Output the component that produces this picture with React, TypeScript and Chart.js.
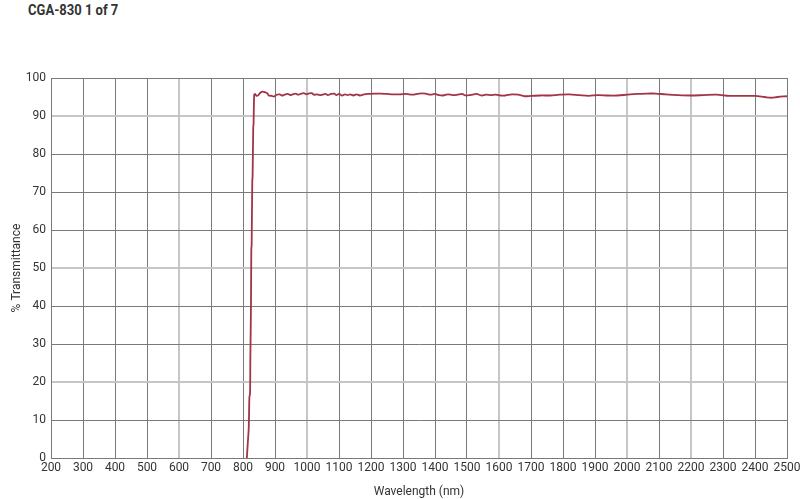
import { useEffect, useRef } from "react"
import { Chart, registerables } from "chart.js"

Chart.register(...registerables)

// wavelength (nm) and % transmittance
const wavelengths = [
  812, 815, 818, 820, 822, 823, 825, 826, 827, 829, 830, 832, 833, 835, 838, 842, 848, 855, 862, 870,
  876, 880, 890, 897, 905, 915, 922, 930, 940, 948, 955, 965, 972, 980, 990, 998, 1005, 1015, 1022, 1030,
  1040, 1048, 1058, 1065, 1075, 1085, 1092, 1100, 1110, 1118, 1127, 1135, 1145, 1155, 1165, 1175, 1190, 1210, 1230, 1250,
  1270, 1290, 1310, 1330, 1350, 1370, 1385, 1400, 1412, 1425, 1440, 1455, 1470, 1485, 1495, 1510, 1530, 1545, 1560, 1575,
  1590, 1605, 1620, 1640, 1660, 1680, 1700, 1730, 1760, 1790, 1820, 1850, 1880, 1910, 1940, 1970, 2000, 2030, 2060, 2090,
  2120, 2160, 2200, 2240, 2280, 2320, 2360, 2400, 2430, 2450, 2470, 2500,
]
const transmittance = [
  0, 4, 8, 16, 17, 26, 41, 55, 56, 73, 74, 87, 88, 95.6, 95.8, 95.3, 95.5, 96.2, 96.4, 96.2,
  96.0, 95.4, 95.3, 95.1, 95.6, 95.7, 95.4, 95.6, 95.8, 95.5, 95.7, 95.9, 95.6, 95.8, 96.0, 95.7, 95.9, 96.0, 95.6, 95.7,
  95.5, 95.6, 95.8, 95.5, 95.8, 95.9, 95.5, 95.8, 95.4, 95.7, 95.5, 95.7, 95.4, 95.7, 95.4, 95.6, 95.8, 95.9, 95.9, 95.8,
  95.7, 95.7, 95.8, 95.6, 95.9, 95.9, 95.6, 95.8, 95.5, 95.4, 95.7, 95.5, 95.6, 95.8, 95.4, 95.5, 95.8, 95.4, 95.6, 95.5,
  95.6, 95.4, 95.4, 95.7, 95.6, 95.2, 95.3, 95.4, 95.4, 95.6, 95.7, 95.5, 95.3, 95.5, 95.4, 95.4, 95.6, 95.8, 95.9, 95.9,
  95.7, 95.5, 95.4, 95.5, 95.6, 95.3, 95.3, 95.3, 95.0, 94.8, 95.0, 95.2,
]

// grid lines that render lighter and wider in the original scan
const lightX = [600, 1000, 1600, 2000, 2200]
const lightY = [20, 50, 90]

const FONT = "Roboto, 'Liberation Sans', sans-serif"
const DARK = "#7a7a7a"
const LIGHT = "#c6c6c6"

export default function App() {
  const canvasRef = useRef<HTMLCanvasElement>(null)
  const chartRef = useRef<Chart | null>(null)

  useEffect(() => {
    if (!canvasRef.current) return
    if (chartRef.current) chartRef.current.destroy()

    const points = wavelengths.map((w, i) => ({ x: w, y: transmittance[i] }))

    chartRef.current = new Chart(canvasRef.current, {
      type: "line",
      data: {
        datasets: [
          {
            data: points,
            borderColor: "#a23446",
            borderWidth: 1.8,
            pointRadius: 0,
            tension: 0.3,
            fill: false,
          },
        ],
      },
      options: {
        animation: false,
        responsive: false,
        devicePixelRatio: 1,
        layout: { padding: { top: 78, right: 13, left: 10, bottom: 0 } },
        plugins: { legend: { display: false }, tooltip: { enabled: false } },
        scales: {
          x: {
            type: "linear",
            min: 200,
            max: 2500,
            afterFit: (s: any) => {
              s.height = 41
              s.paddingLeft = 0
              s.paddingRight = 0
            },
            ticks: {
              stepSize: 100,
              color: "#333",
              padding: 3,
              maxRotation: 0,
              autoSkip: false,
              font: { family: FONT, size: 12 },
              callback: (v: any) => String(v),
            },
            grid: {
              drawTicks: false,
              color: (c: any) => (lightX.includes(c.tick?.value) ? LIGHT : DARK),
              lineWidth: (c: any) => (lightX.includes(c.tick?.value) ? 2 : 1),
            },
            border: { color: DARK, width: 1 },
            title: {
              display: true,
              text: "Wavelength (nm)",
              color: "#333",
              font: { family: FONT, size: 12 },
              padding: { top: 5, bottom: 0 },
            },
          },
          y: {
            min: 0,
            max: 100,
            afterFit: (s: any) => {
              s.width = 41
              s.paddingTop = 0
              s.paddingBottom = 0
            },
            ticks: {
              stepSize: 10,
              color: "#333",
              padding: 5,
              font: { family: FONT, size: 12 },
            },
            grid: {
              drawTicks: false,
              color: (c: any) => (lightY.includes(c.tick?.value) ? LIGHT : DARK),
              lineWidth: (c: any) => (lightY.includes(c.tick?.value) ? 2 : 1),
            },
            border: { color: DARK, width: 1 },
            title: {
              display: true,
              text: "% Transmittance",
              color: "#333",
              font: { family: FONT, size: 12 },
              padding: { top: 0, bottom: 4 },
            },
          },
        },
      },
    })

    return () => {
      if (chartRef.current) {
        chartRef.current.destroy()
        chartRef.current = null
      }
    }
  }, [])

  return (
    <div style={{ position: "absolute", left: 0, top: 0, width: 800, height: 499, background: "#fff" }}>
      <div
        style={{
          position: "absolute",
          left: 28,
          top: 1,
          fontFamily: FONT,
          fontWeight: "bold",
          fontSize: 14,
          lineHeight: "18px",
          color: "#333",
          whiteSpace: "nowrap",
          transform: "scaleX(0.93)",
          transformOrigin: "left top",
        }}
      >
        CGA-830 1 of 7
      </div>
      <canvas ref={canvasRef} width={800} height={499} style={{ position: "absolute", left: 0, top: 0 }} />
    </div>
  )
}
